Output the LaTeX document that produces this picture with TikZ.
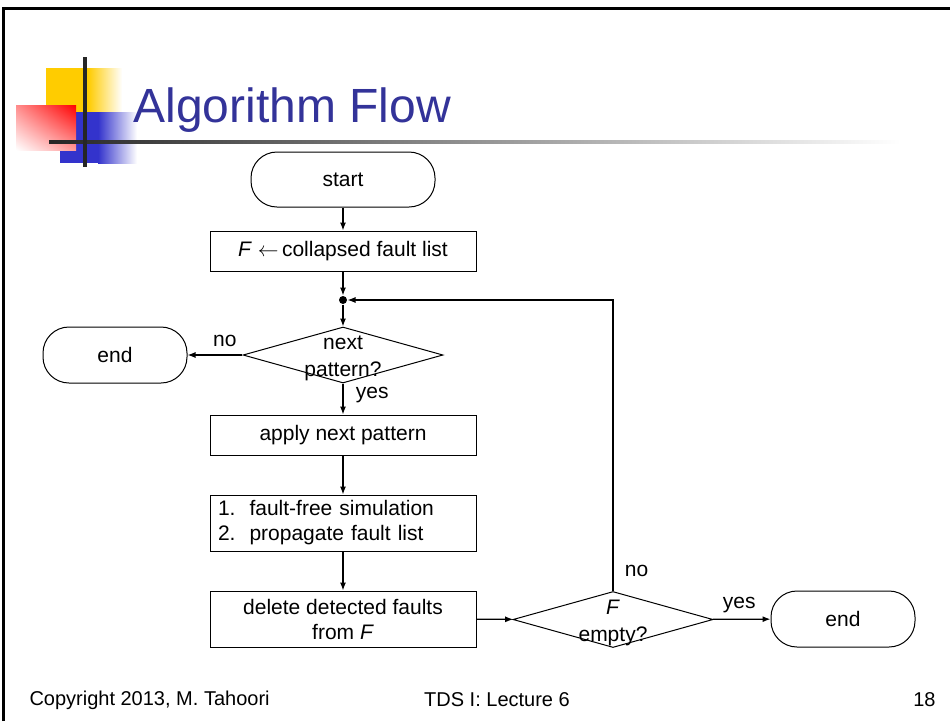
\documentclass[tikz,border=0pt]{standalone}
\usepackage{fontspec}
\setmainfont{Liberation Sans}
\usetikzlibrary{arrows.meta,positioning,shapes.geometric,shadings}
\definecolor{titleblue}{HTML}{333399}
\definecolor{mkyellow}{HTML}{FFCC00}
\definecolor{mkblue}{HTML}{3333CC}

\begin{document}
\begin{tikzpicture}[x=1pt,y=-1pt,>={Latex[length=8pt,width=6pt]},
        font=\fontsize{21}{25}\selectfont,line width=1pt,
        term/.style={draw,rounded corners=26pt,minimum width=144pt,minimum height=56pt,inner sep=0pt},
        proc/.style={draw,minimum width=266pt,minimum height=40pt,inner sep=0pt,align=center},
        decide/.style={draw,diamond,minimum width=200pt,minimum height=56pt,inner sep=0pt},
        asklabel/.style={font=\fontsize{21}{27}\selectfont,align=center,yshift=-3pt},
        flow/.style={->,line width=1.2pt}]
        \useasboundingbox (0,0) rectangle (950,721);
        \draw [line width=3pt] (3,721) -- (3,8) -- (950,8);
        \fill [mkyellow] (46,68) rectangle (88,112);
        \shade [left color=mkyellow,right color=white] (88,68) rectangle (122,112);
        \fill [mkblue] (60,112) rectangle (98,163);
        \shade [left color=mkblue,right color=white] (98,112) rectangle (137,163);
        \shade [upper right=red,upper left=red!45,lower left=white,lower right=red!40] (16,105) rectangle (76,150);
        \shade [left color=black!85,right color=white] (49,140.3) rectangle (900,143.7);
        \draw [line width=3.5pt,black!85] (85,57) -- (85,167);
        \node [anchor=base west,inner sep=0pt,text=titleblue,font=\fontsize{48}{50}\selectfont] (title) at (133,122) {Algorithm Flow};

        \node [term,minimum width=184pt,minimum height=55pt] (start) at (343,179.5) {start};
        \node [proc] (init) at (343,251) {\textit{F}\ $\leftarrow$\,collapsed fault list};
        \node [circle,fill,inner sep=0pt,minimum size=8pt] (join) at (343,300) {};
        \node [decide,label={[asklabel]center:{next\\pattern?}}] (more) at (343,355) {};
        \node [term] (stopA) at (115,355) {end};
        \node [proc] (apply) at (343,435) {apply next pattern};
        \node [proc,minimum height=56pt,text width=250pt,align=left] (sim) at (343,523) {1.\ \ fault-free simulation\\2.\ \ propagate fault list};
        \node [proc,minimum height=56pt] (drop) at (343,619) {delete detected faults\\from \textit{F}};
        \node [decide,label={[asklabel]center:{\textit{F}\\empty?}}] (empty) at (613,619.5) {};
        \node [term] (stopB) at (843,619) {end};

        \draw [flow] (start) -- (init);
        \draw [flow] (init) -- (join);
        \draw [flow] (join) -- (more);
        \draw [flow] (more) -- node [above=4pt,pos=0.32] {no} (stopA);
        \draw [flow] (more) -- node [right=9pt,pos=0.375] {yes} (apply);
        \draw [flow] (apply) -- (sim);
        \draw [flow] (sim) -- (drop);
        \draw [flow] (drop) -- (empty);
        \draw [flow] (empty) -- node [above=2pt,pos=0.46] {yes} (stopB);
        \draw [flow] (empty.north) -- node [right=8pt,pos=0.07] {no} (empty.north |- join) -- (join);

        \node [anchor=west,inner sep=0pt,font=\fontsize{20}{22}\selectfont] (credit) at (29,700) {Copyright 2013, M. Tahoori};
        \node [inner sep=0pt,font=\fontsize{20}{22}\selectfont] (course) at (497,700) {TDS I: Lecture 6};
        \node [anchor=east,inner sep=0pt,font=\fontsize{20}{22}\selectfont] (pageno) at (936,700) {18};
\end{tikzpicture}
\end{document}
